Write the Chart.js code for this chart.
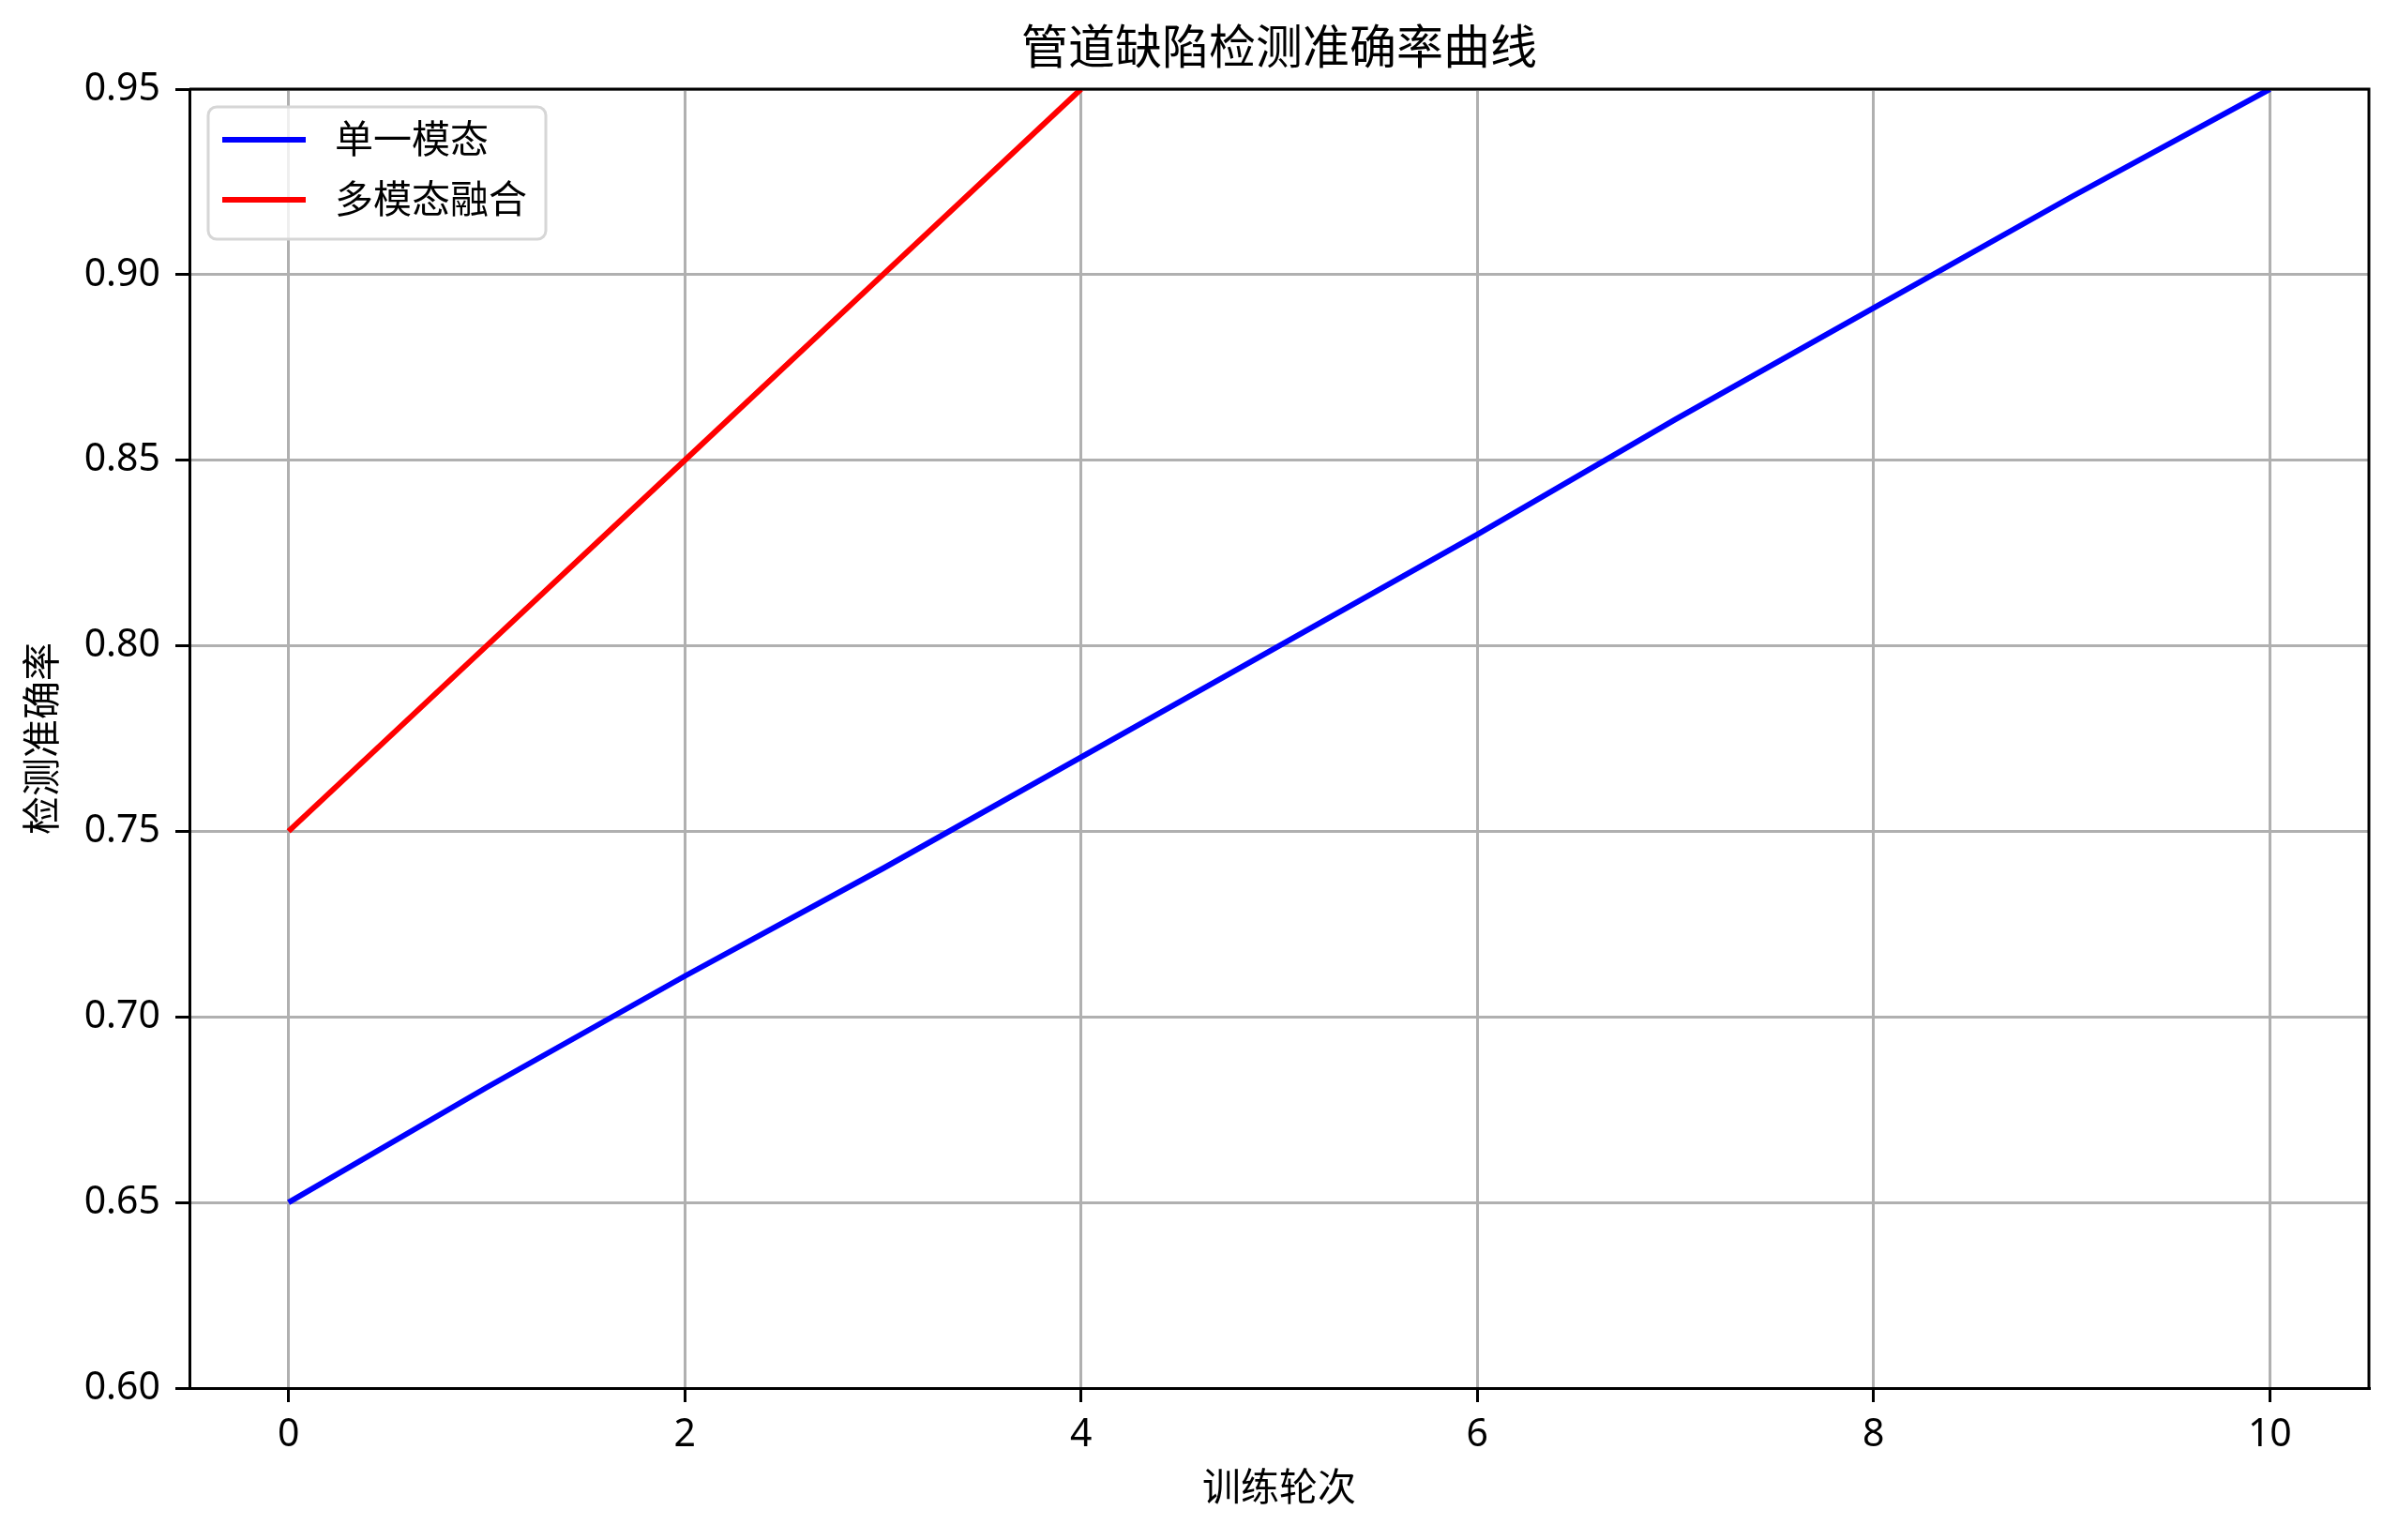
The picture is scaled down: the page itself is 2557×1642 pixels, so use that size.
<!DOCTYPE html>
<html>
<head>
<meta charset="utf-8">
<script src="https://cdn.jsdelivr.net/npm/chart.js@4/dist/chart.umd.min.js"></script>
<style>
  html, body { margin: 0; padding: 0; background: #fff; }
  #wrap { width: 2557px; height: 1642px; }
</style>
</head>
<body>
<div id="wrap"><canvas id="accChart" width="2557" height="1642"></canvas></div>
<script>
// data
var epochs = [0, 1, 2, 3, 4, 5, 6, 7, 8, 9, 10];
var singleMode = [0.650, 0.681, 0.711, 0.740, 0.770, 0.800, 0.830, 0.861, 0.891, 0.921, 0.950];
var fusionEpochs = [0, 1, 2, 3, 4];
var fusionMode = [0.75, 0.80, 0.85, 0.90, 0.95];
var xTicks = [0, 2, 4, 6, 8, 10];
var yTicks = [0.60, 0.65, 0.70, 0.75, 0.80, 0.85, 0.90, 0.95];

var titleText = '管道缺陷检测准确率曲线';
var xLabel = '训练轮次';
var yLabel = '检测准确率';
var FONT = '"Noto Sans", "Noto Sans CJK SC", sans-serif';

function toPoints(xs, ys) {
  return xs.map(function(x, i) { return { x: x, y: ys[i] }; });
}

var decorPlugin = {
  id: 'decor',
  afterDraw: function(chart) {
    var ctx = chart.ctx;
    var a = chart.chartArea;
    ctx.save();
    // top and right spines
    ctx.strokeStyle = '#000';
    ctx.lineWidth = 3;
    ctx.beginPath();
    ctx.moveTo(a.left, a.top);
    ctx.lineTo(a.right, a.top);
    ctx.lineTo(a.right, a.bottom);
    ctx.stroke();

    ctx.fillStyle = '#000';
    ctx.textAlign = 'center';
    ctx.textBaseline = 'middle';
    ctx.font = '50px ' + FONT;
    ctx.fillText(titleText, (a.left + a.right) / 2, 54);

    ctx.font = '41px ' + FONT;
    ctx.fillText(xLabel, (a.left + a.right) / 2, 1588);

    ctx.save();
    ctx.translate(47, (a.top + a.bottom) / 2);
    ctx.rotate(-Math.PI / 2);
    ctx.fillText(yLabel, 0, 0);
    ctx.restore();

    // legend box, inside upper left
    var bx = 222, by = 114, bw = 360, bh = 141, r = 9;
    ctx.beginPath();
    ctx.moveTo(bx + r, by);
    ctx.arcTo(bx + bw, by, bx + bw, by + bh, r);
    ctx.arcTo(bx + bw, by + bh, bx, by + bh, r);
    ctx.arcTo(bx, by + bh, bx, by, r);
    ctx.arcTo(bx, by, bx + bw, by, r);
    ctx.closePath();
    ctx.fillStyle = 'rgba(255,255,255,0.8)';
    ctx.fill();
    ctx.strokeStyle = '#d6d6d6';
    ctx.lineWidth = 3;
    ctx.stroke();

    var rows = [149, 213];
    chart.data.datasets.forEach(function(ds, i) {
      ctx.strokeStyle = ds.borderColor;
      ctx.lineWidth = 6;
      ctx.beginPath();
      ctx.moveTo(237, rows[i]);
      ctx.lineTo(326, rows[i]);
      ctx.stroke();
      ctx.fillStyle = '#000';
      ctx.textAlign = 'left';
      ctx.font = '41px ' + FONT;
      ctx.fillText(ds.label, 357, rows[i] + 2);
    });
    ctx.restore();
  }
};

var ctx = document.getElementById('accChart');
new Chart(ctx, {
  type: 'line',
  data: {
    datasets: [{
      label: '单一模态',
      data: toPoints(epochs, singleMode),
      borderColor: '#0000ff',
      borderWidth: 6,
      pointRadius: 0,
      tension: 0,
      fill: false
    }, {
      label: '多模态融合',
      data: toPoints(fusionEpochs, fusionMode),
      borderColor: '#ff0000',
      borderWidth: 6,
      pointRadius: 0,
      tension: 0,
      fill: false
    }]
  },
  options: {
    responsive: false,
    animation: false,
    devicePixelRatio: 1,
    layout: { padding: { top: 95, right: 31, left: 0, bottom: 0 } },
    plugins: {
      legend: { display: false },
      title: { display: false },
      tooltip: { enabled: false }
    },
    scales: {
      x: {
        type: 'linear',
        min: -0.5,
        max: 10.5,
        afterBuildTicks: function(scale) {
          scale.ticks = xTicks.map(function(v) { return { value: v }; });
        },
        afterFit: function(scale) { scale.height = 162; },
        ticks: {
          color: '#000',
          font: { family: FONT, size: 41 },
          padding: 11,
          maxRotation: 0,
          callback: function(v) { return String(v); }
        },
        grid: {
          color: '#b0b0b0',
          lineWidth: 3,
          drawTicks: true,
          tickLength: 15,
          tickColor: '#000',
          tickWidth: 3
        },
        border: { display: true, color: '#000', width: 3 }
      },
      y: {
        type: 'linear',
        min: 0.6,
        max: 0.95,
        afterBuildTicks: function(scale) {
          scale.ticks = yTicks.map(function(v) { return { value: v }; });
        },
        afterFit: function(scale) { scale.width = 202; },
        ticks: {
          color: '#000',
          font: { family: FONT, size: 41 },
          padding: 16,
          callback: function(v) { return Number(v).toFixed(2); }
        },
        grid: {
          color: '#b0b0b0',
          lineWidth: 3,
          drawTicks: true,
          tickLength: 15,
          tickColor: '#000',
          tickWidth: 3
        },
        border: { display: true, color: '#000', width: 3 }
      }
    }
  },
  plugins: [decorPlugin]
});
</script>
</body>
</html>
